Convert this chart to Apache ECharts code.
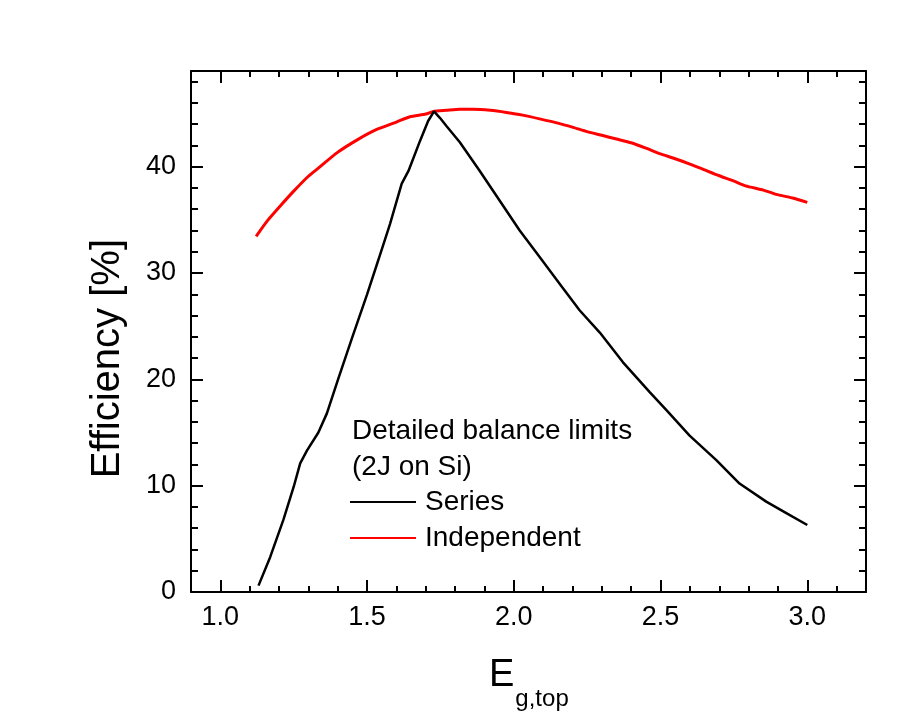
<!DOCTYPE html>
<html>
<head>
<meta charset="utf-8">
<script src="https://cdn.jsdelivr.net/npm/echarts@6/dist/echarts.min.js"></script>
<style>
  html, body { margin: 0; padding: 0; background: #ffffff; }
  #chart { width: 915px; height: 712px; }
</style>
</head>
<body>
<div id="chart"></div>
<script>
// Detailed-balance efficiency limits of a 2-junction cell on Si vs. top-cell band gap
const seriesLabel = 'Series';
const independentLabel = 'Independent';

const seriesX = [1.13, 1.17, 1.215, 1.25, 1.272, 1.295, 1.334, 1.363, 1.40, 1.45, 1.50, 1.538, 1.578, 1.618, 1.641, 1.68, 1.708, 1.728, 1.748, 1.771, 1.816, 1.884, 1.952, 2.02, 2.088, 2.156, 2.224, 2.293, 2.372, 2.463, 2.52, 2.599, 2.69, 2.769, 2.86, 2.93, 3.0];
const seriesY = [0.6, 3.3, 6.8, 9.9, 12.1, 13.3, 15.0, 16.8, 19.9, 24.0, 28.0, 31.2, 34.6, 38.4, 39.6, 42.4, 44.3, 45.2, 44.6, 43.8, 42.3, 39.6, 36.8, 34.0, 31.5, 29.0, 26.5, 24.4, 21.6, 18.8, 17.1, 14.7, 12.4, 10.2, 8.5, 7.4, 6.3];

const independentX = [1.122, 1.16, 1.204, 1.25, 1.30, 1.34, 1.397, 1.465, 1.533, 1.60, 1.646, 1.70, 1.726, 1.77, 1.816, 1.862, 1.92, 1.975, 2.03, 2.088, 2.15, 2.202, 2.25, 2.30, 2.35, 2.40, 2.45, 2.50, 2.55, 2.60, 2.65, 2.70, 2.75, 2.79, 2.85, 2.894, 2.95, 3.0];
const independentY = [33.45, 34.9, 36.3, 37.7, 39.1, 40.0, 41.3, 42.5, 43.5, 44.2, 44.7, 44.95, 45.2, 45.3, 45.4, 45.4, 45.3, 45.1, 44.85, 44.5, 44.1, 43.7, 43.3, 42.95, 42.6, 42.25, 41.75, 41.2, 40.75, 40.25, 39.7, 39.15, 38.65, 38.2, 37.8, 37.4, 37.05, 36.65];

const xMajorTicks = [1.0, 1.5, 2.0, 2.5, 3.0];
const xMinorTicks = [0.9, 1.1, 1.2, 1.3, 1.4, 1.6, 1.7, 1.8, 1.9, 2.1, 2.2, 2.3, 2.4, 2.6, 2.7, 2.8, 2.9, 3.1];
const yMajorTicks = [0, 10, 20, 30, 40];
const yMinorTicks = [2, 4, 6, 8, 12, 14, 16, 18, 22, 24, 26, 28, 32, 34, 36, 38, 42, 44, 46, 48];

const xRange = [0.9, 3.2];
const yRange = [0, 49];

const FONT = "'Liberation Sans', Arial, Helvetica, sans-serif";
const INK = '#000000';

function pairs(xs, ys) {
  return xs.map((x, i) => [x, ys[i]]);
}

function xAxisDef(position, ticks, len, withLine, withLabels) {
  return {
    type: 'value',
    position: position,
    min: xRange[0],
    max: xRange[1],
    splitLine: { show: false },
    axisLine: { show: withLine, onZero: false, lineStyle: { color: INK, width: 2 } },
    axisTick: { show: true, inside: true, length: len, customValues: ticks, lineStyle: { color: INK, width: 2 } },
    axisLabel: withLabels ? {
      show: true, customValues: ticks, margin: 12,
      fontFamily: FONT, fontSize: 27, color: INK,
      formatter: v => Number(v).toFixed(1)
    } : { show: false }
  };
}

function yAxisDef(position, ticks, len, withLine, withLabels) {
  return {
    type: 'value',
    position: position,
    min: yRange[0],
    max: yRange[1],
    splitLine: { show: false },
    axisLine: { show: withLine, onZero: false, lineStyle: { color: INK, width: 2 } },
    axisTick: { show: true, inside: true, length: len, customValues: ticks, lineStyle: { color: INK, width: 2 } },
    axisLabel: withLabels ? {
      show: true, customValues: ticks, margin: 15,
      fontFamily: FONT, fontSize: 27, color: INK,
      formatter: v => String(Math.round(v))
    } : { show: false }
  };
}

const chart = echarts.init(document.getElementById('chart'), null, { renderer: 'canvas' });

chart.setOption({
  backgroundColor: '#ffffff',
  animation: false,
  grid: { left: 191, top: 71, right: 49, bottom: 120, containLabel: false },
  title: {
    text: 'Detailed balance limits\n(2J on Si)',
    left: 347,
    top: 408,
    textStyle: { fontFamily: FONT, fontSize: 28, fontWeight: 'normal', color: INK, lineHeight: 36 }
  },
  legend: {
    orient: 'vertical',
    left: 350,
    top: 488,
    itemWidth: 66,
    itemHeight: 2,
    itemGap: 8,
    icon: 'rect',
    padding: 0,
    textStyle: { fontFamily: FONT, fontSize: 28, color: INK, padding: [0, 0, 0, 4], lineHeight: 28 },
    data: [seriesLabel, independentLabel]
  },
  xAxis: [
    xAxisDef('bottom', xMajorTicks, 12, true, true),
    xAxisDef('bottom', xMinorTicks, 6, false, false),
    xAxisDef('top', xMajorTicks, 12, true, false),
    xAxisDef('top', xMinorTicks, 6, false, false)
  ],
  yAxis: [
    yAxisDef('left', yMajorTicks, 12, true, true),
    yAxisDef('left', yMinorTicks, 7, false, false),
    yAxisDef('right', yMajorTicks, 12, true, false),
    yAxisDef('right', yMinorTicks, 7, false, false)
  ],
  graphic: [
    {
      type: 'text',
      left: 88,
      top: 239,
      rotation: Math.PI / 2,
      style: {
        text: 'Efficiency [%]',
        fontFamily: FONT,
        fontSize: 40,
        fill: INK
      }
    },
    {
      type: 'text',
      left: 489,
      top: 657,
      style: {
        text: '{e|E}{s|g,top}',
        fontFamily: FONT,
        fill: INK,
        rich: {
          e: { fontFamily: FONT, fontSize: 38, fill: INK, verticalAlign: 'bottom', lineHeight: 44 },
          s: { fontFamily: FONT, fontSize: 24, fill: INK, verticalAlign: 'bottom', lineHeight: 44, padding: [0, 0, -16, 1] }
        }
      }
    }
  ],
  series: [
    {
      name: seriesLabel,
      type: 'line',
      xAxisIndex: 0,
      yAxisIndex: 0,
      data: pairs(seriesX, seriesY),
      showSymbol: false,
      symbol: 'none',
      smooth: false,
      lineStyle: { color: '#000000', width: 2.5 },
      itemStyle: { color: '#000000' },
      z: 3
    },
    {
      name: independentLabel,
      type: 'line',
      xAxisIndex: 0,
      yAxisIndex: 0,
      data: pairs(independentX, independentY),
      showSymbol: false,
      symbol: 'none',
      smooth: 0.2,
      lineStyle: { color: '#ff0000', width: 3 },
      itemStyle: { color: '#ff0000' },
      z: 2
    }
  ]
});
</script>
</body>
</html>
